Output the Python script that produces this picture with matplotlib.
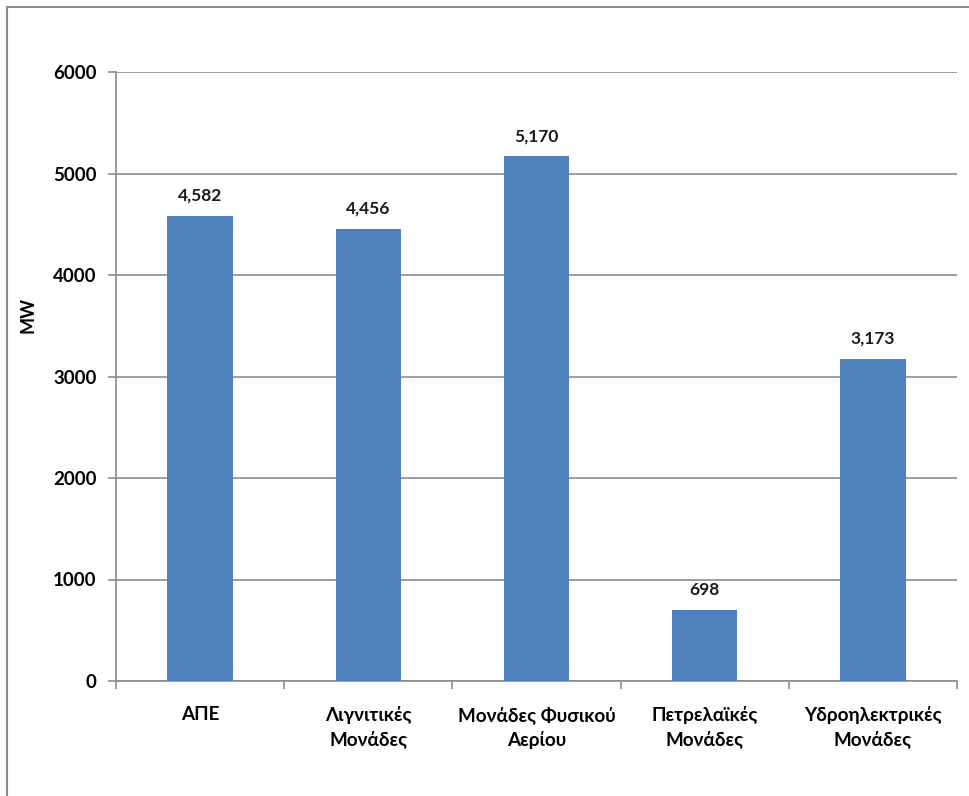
import matplotlib.pyplot as plt
from matplotlib.lines import Line2D

categories = ['ΑΠΕ', 'Λιγνιτικές\nΜονάδες', 'Μονάδες Φυσικού\nΑερίου',
              'Πετρελαϊκές\nΜονάδες', 'Υδροηλεκτρικές\nΜονάδες']
values = [4582, 4456, 5170, 698, 3173]
y_ticks = [0, 1000, 2000, 3000, 4000, 5000, 6000]

plt.rcParams['font.family'] = ['Lato', 'Noto Sans', 'DejaVu Sans']

fig = plt.figure(figsize=(9.69, 7.96), dpi=100)
ax = fig.add_axes([116 / 969, 1 - 681 / 796, (957 - 116) / 969, 609 / 796])

# cadre du graphique (seulement haut et gauche visibles)
fig.add_artist(Line2D([7 / 969, 1.0], [1 - 7 / 796, 1 - 7 / 796],
                      transform=fig.transFigure, color='#8c8c8c', linewidth=1.5))
fig.add_artist(Line2D([7 / 969, 7 / 969], [0.0, 1 - 7 / 796],
                      transform=fig.transFigure, color='#8c8c8c', linewidth=1.5))

x = range(len(categories))
bars = ax.bar(x, values, width=0.39, color='#4F81BD', zorder=3)

for xi, v in zip(x, values):
    ax.text(xi, v + 120, f'{v:,}', ha='center', va='bottom',
            fontsize=12.5, fontweight='bold', color='#1a1a1a')

ax.set_xlim(-0.5, len(categories) - 0.5)
ax.set_ylim(0, 6000)
ax.set_yticks(y_ticks)
ax.set_yticklabels([str(t) for t in y_ticks], fontsize=13.5, fontweight='bold')
ax.yaxis.grid(True, color='#8c8c8c', linewidth=1.2, zorder=0)

# etiquetas de categoría
ax.set_xticks(list(x))
ax.set_xticklabels(categories, fontsize=13.6, fontweight='bold', linespacing=1.45)
ax.tick_params(axis='x', length=0, pad=18)
ax.set_xticks([i - 0.5 for i in range(len(categories) + 1)], minor=True)
ax.tick_params(axis='x', which='minor', length=6, color='#8c8c8c', width=1.2)
ax.tick_params(axis='y', length=6, color='#8c8c8c', width=1.2, pad=8)

for s in ['top', 'right']:
    ax.spines[s].set_visible(False)
for s in ['left', 'bottom']:
    ax.spines[s].set_color('#8c8c8c')
    ax.spines[s].set_linewidth(1.2)

fig.text(28 / 969, 1 - 315 / 796, 'MW', rotation=90, ha='center', va='center',
         fontsize=13, fontweight='bold')

fig.savefig('out.png', dpi=100)
